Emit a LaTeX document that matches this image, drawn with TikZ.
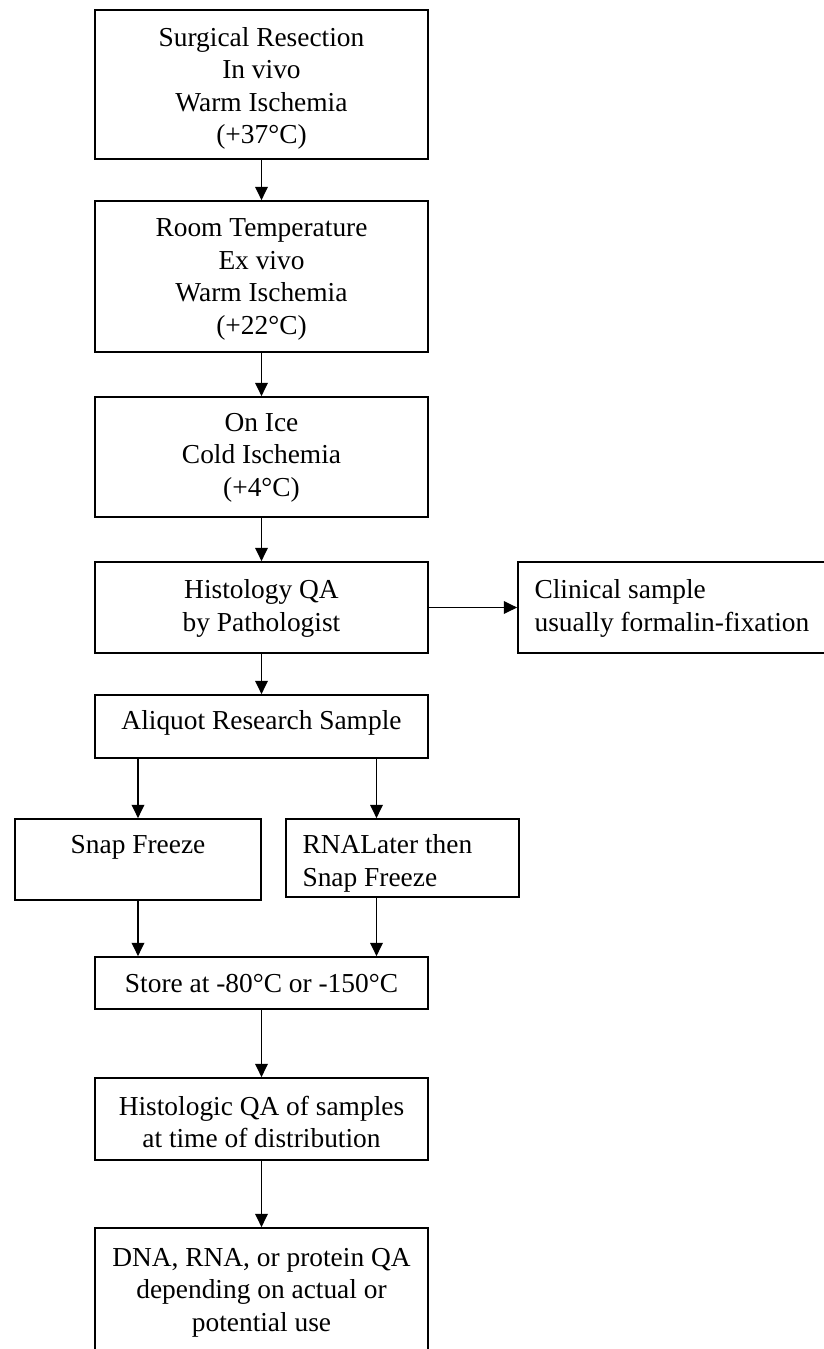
\documentclass[tikz,border=0pt]{standalone}
\usepackage{fontspec}
\setmainfont{Liberation Serif}
\usetikzlibrary{arrows.meta}
\begin{document}
\begin{tikzpicture}[x=0.5pt,y=-0.5pt,
  box/.style={draw=black, line width=0.85pt, inner sep=0pt},
  txt/.style={inner sep=0pt, align=center, font=\fontsize{13.7pt}{16.25pt}\selectfont},
  ltxt/.style={txt, align=left},
  arr/.style={draw=black, line width=0.75pt, -{Triangle[length=6.7pt,width=6.3pt]}}]
\clip (0,0) rectangle (824,1349);
\fill[white] (0,0) rectangle (824,1349);
% boxes
\node[box, minimum width=166.5pt, minimum height=74.5pt] (s1) at (261.5,84.5) {};
\node[box, minimum width=166.5pt, minimum height=75.5pt] (s2) at (261.5,276.5) {};
\node[box, minimum width=166.5pt, minimum height=60pt] (s3) at (261.5,457) {};
\node[box, minimum width=166.5pt, minimum height=45.5pt] (s4) at (261.5,607.5) {};
\node[box, minimum width=156pt, minimum height=45.5pt] (cl) at (674,607.5) {};
\node[box, minimum width=166.5pt, minimum height=31.5pt] (al) at (261.5,726.5) {};
\node[box, minimum width=123pt, minimum height=40.5pt] (sf) at (138,859.5) {};
\node[box, minimum width=116.5pt, minimum height=39pt] (rn) at (402.5,858) {};
\node[box, minimum width=166.5pt, minimum height=26pt] (st) at (261.5,983) {};
\node[box, minimum width=166.5pt, minimum height=41pt] (hq) at (261.5,1119) {};
\node[box, minimum width=166.5pt, minimum height=66pt] (dn) at (261.5,1294) {};
% texts
\node[txt, anchor=north] (t1) at ([yshift=-8.9pt]s1.north) {Surgical Resection\\In vivo\\Warm Ischemia\\(+37°C)};
\node[txt, anchor=north] (t2) at ([yshift=-9.2pt]s2.north) {Room Temperature\\Ex vivo\\Warm Ischemia\\(+22°C)};
\node[txt, anchor=north] (t3) at ([yshift=-8.2pt]s3.north) {On Ice\\Cold Ischemia\\(+4°C)};
\node[txt, anchor=north] (t4) at ([yshift=-9.2pt]s4.north) {Histology QA\\by Pathologist};
\node[ltxt, anchor=north west] (tcl) at ([xshift=8.5pt,yshift=-9.2pt]cl.north west) {Clinical sample\\usually formalin-fixation};
\node[txt, anchor=north] (tal) at ([yshift=-8.2pt]al.north) {Aliquot Research Sample};
\node[txt, anchor=north] (tsf) at ([yshift=-8.2pt]sf.north) {Snap Freeze};
\node[ltxt, anchor=north west] (trn) at ([xshift=8.5pt,yshift=-8.2pt]rn.north west) {RNALater then\\Snap Freeze};
\node[txt, anchor=north] (tst) at ([yshift=-9.0pt]st.north) {Store at -80°C or -150°C};
\node[txt, anchor=north] (thq) at ([yshift=-9.2pt]hq.north) {Histologic QA of samples\\at time of distribution};
\node[txt, anchor=north] (tdn) at ([yshift=-10.2pt]dn.north) {DNA, RNA, or protein QA\\depending on actual or\\potential use};
% connectors
\coordinate (rx) at (376.5,0);
\draw[arr] (s1.south) -- (s2.north);
\draw[arr] (s2.south) -- (s3.north);
\draw[arr] (s3.south) -- (s4.north);
\draw[arr] (s4.east) -- (cl.west);
\draw[arr] (s4.south) -- (al.north);
\draw[arr] (sf.north |- al.south) -- (sf.north);
\draw[arr] (al.south -| rx) -- (rn.north -| rx);
\draw[arr] (sf.south) -- (sf.south |- st.north);
\draw[arr] (rn.south -| rx) -- (st.north -| rx);
\draw[arr] (st.south) -- (hq.north);
\draw[arr] (hq.south) -- (dn.north);
\end{tikzpicture}
\end{document}
